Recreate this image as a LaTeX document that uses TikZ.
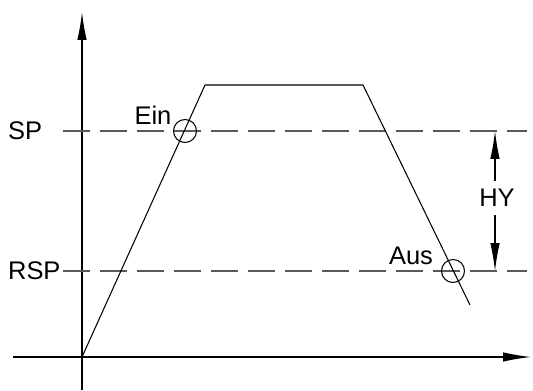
\documentclass[tikz,border=0pt]{standalone}
\usepackage{fontspec}
\setmainfont{Liberation Sans}
\usetikzlibrary{arrows.meta,positioning,calc}
\definecolor{dashgray}{HTML}{5A5A5A}

\begin{document}
\begin{tikzpicture}[
		x=0.02cm,
		y=0.02cm,
		>={Latex[length=0.56cm,width=0.19cm]},
		line cap=butt,
		line join=round,
		axis/.style={->,line width=0.8pt},
		curve/.style={line width=0.6pt},
		level/.style={dashgray,line width=0.7pt,dash pattern=on 0.54cm off 0.2cm},
		marker/.style={circle,draw,line width=0.6pt,minimum size=0.46cm,inner sep=0pt},
		label/.style={font=\fontsize{14.5}{17}\selectfont,inner sep=1pt},
		span/.style={->,line width=0.6pt}
	]
	\useasboundingbox (0,0) rectangle (533,391);
	
	% Axes
	\coordinate (origin) at (82,34);
	\coordinate (ytip)   at (82,379);
	\coordinate (ybot)   at (82,1);
	\coordinate (xleft)  at (13,34);
	\coordinate (xtip)   at (531,34);
	\draw[line width=0.8pt] (ybot) -- (origin);
	\draw[axis] (origin) -- (ytip);
	\draw[axis] (xleft) -- (xtip);
	
	% Set point levels
	\coordinate (spl)  at (63,260);
	\coordinate (spr)  at (527,260);
	\coordinate (rspl) at (63,120);
	\coordinate (rspr) at (527,120);
	\draw[level] (spl) -- (spr);
	\draw[level] (rspl) -- (rspr);
	
	\node[label,anchor=west] (sp)  at (6,260) {SP};
	\node[label,anchor=west] (rsp) at (6,120) {RSP};
	
	% Trajectory
	\coordinate (rise) at (205,306);
	\coordinate (hold) at (363,306);
	\coordinate (fall) at (470,86);
	\draw[curve] (origin) -- (rise) -- (hold) -- (fall);
	
	% Switch points
	\node[marker] (ein) at (185,260) {};
	\node[marker] (aus) at (453,120) {};
	\node[label] (einlabel) at (153,276) {Ein};
	\node[label] (auslabel) at (411,135) {Aus};
	
	% Hysteresis
	\node[label] (hy) at (497,193) {HY};
	\coordinate (hytop) at (495,260);
	\coordinate (hybot) at (495,120);
	\draw[span] ($(hy.north -| hytop)+(0,6)$) -- (hytop);
	\draw[span] ($(hy.south -| hybot)+(0,-6)$) -- (hybot);
	
\end{tikzpicture}
\end{document}
